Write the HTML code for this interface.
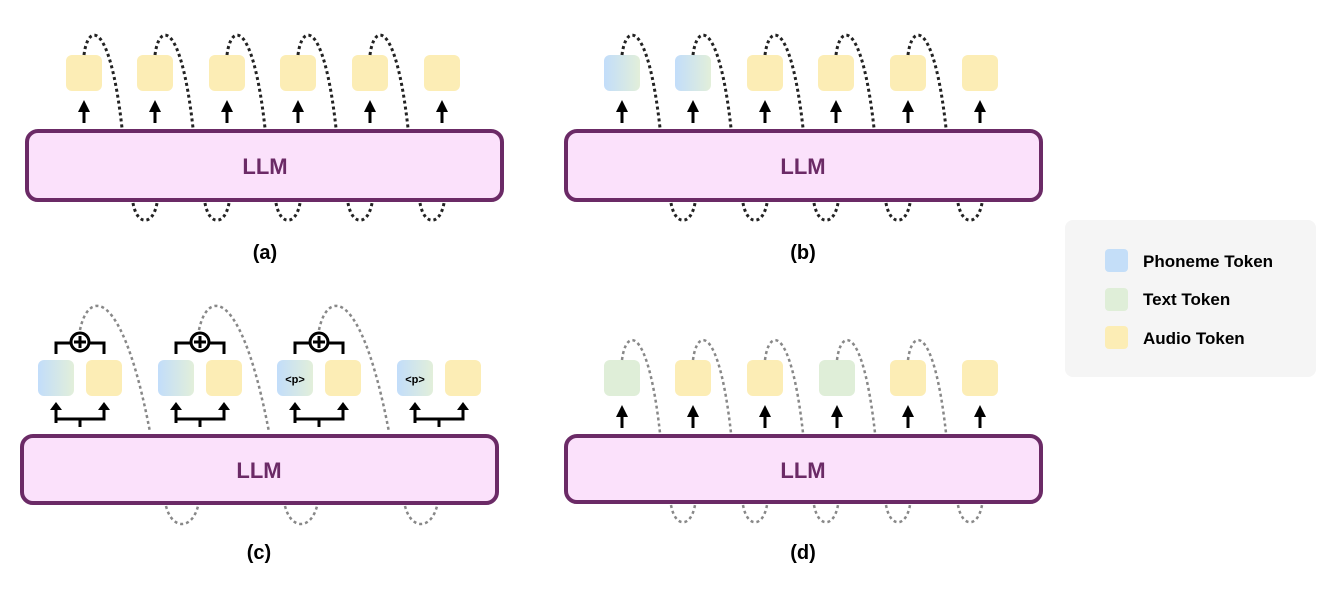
<!DOCTYPE html>
<html><head><style>
body{margin:0;background:#fff}
text{font-family:"Liberation Sans",sans-serif;font-weight:bold}
</style></head><body>
<svg width="1331" height="606" viewBox="0 0 1331 606" xmlns="http://www.w3.org/2000/svg">
<defs>
<linearGradient id="pg" x1="0" x2="1" y1="0" y2="0"><stop offset="0" stop-color="#c2ddfa"/><stop offset="1" stop-color="#e2efda"/></linearGradient>
<marker id="ah" markerWidth="4" markerHeight="4" refX="2" refY="2" orient="auto" markerUnits="strokeWidth"><path d="M0,0 L4,2 L0,4z" fill="#000"/></marker>
</defs>
<rect x="27" y="131" width="475" height="69" rx="11" fill="#fbe1fb" stroke="#6b2a66" stroke-width="4"/>
<text x="265" y="174" font-size="22" fill="#6b2a66" text-anchor="middle">LLM</text>
<!-- panel a -->
<g fill="#fcedb5">
<rect x="66" y="55" width="36" height="36" rx="6"/><rect x="137" y="55" width="36" height="36" rx="6"/><rect x="209" y="55" width="36" height="36" rx="6"/><rect x="280" y="55" width="36" height="36" rx="6"/><rect x="352" y="55" width="36" height="36" rx="6"/><rect x="424" y="55" width="36" height="36" rx="6"/>
</g>
<g stroke="#000" stroke-width="3" marker-end="url(#ah)">
<line x1="84" y1="123" x2="84" y2="106"/><line x1="155" y1="123" x2="155" y2="106"/><line x1="227" y1="123" x2="227" y2="106"/><line x1="298" y1="123" x2="298" y2="106"/><line x1="370" y1="123" x2="370" y2="106"/><line x1="442" y1="123" x2="442" y2="106"/>
</g>
<g fill="none" stroke="#222" stroke-width="3" stroke-dasharray="3 3">
<path d="M84,55 C88,22 110,20 122,128"/><path d="M155,55 C159,22 181,20 193,128"/><path d="M227,55 C231,22 253,20 265,128"/><path d="M298,55 C302,22 324,20 336,128"/><path d="M370,55 C374,22 396,20 408,128"/>
<path d="M133,203 C137,226 153,226 157,203"/><path d="M205,203 C209,226 225,226 229,203"/><path d="M276,203 C280,226 296,226 300,203"/><path d="M348,203 C352,226 368,226 372,203"/><path d="M420,203 C424,226 440,226 444,203"/>
</g>
<text x="265" y="259" font-size="20" text-anchor="middle">(a)</text>
<!-- panel b -->
<rect x="566" y="131" width="475" height="69" rx="11" fill="#fbe1fb" stroke="#6b2a66" stroke-width="4"/>
<text x="803" y="174" font-size="22" fill="#6b2a66" text-anchor="middle">LLM</text>
<rect x="604" y="55" width="36" height="36" rx="6" fill="url(#pg)"/><rect x="675" y="55" width="36" height="36" rx="6" fill="url(#pg)"/>
<g fill="#fcedb5"><rect x="747" y="55" width="36" height="36" rx="6"/><rect x="818" y="55" width="36" height="36" rx="6"/><rect x="890" y="55" width="36" height="36" rx="6"/><rect x="962" y="55" width="36" height="36" rx="6"/></g>
<g stroke="#000" stroke-width="3" marker-end="url(#ah)">
<line x1="622" y1="123" x2="622" y2="106"/><line x1="693" y1="123" x2="693" y2="106"/><line x1="765" y1="123" x2="765" y2="106"/><line x1="836" y1="123" x2="836" y2="106"/><line x1="908" y1="123" x2="908" y2="106"/><line x1="980" y1="123" x2="980" y2="106"/>
</g>
<g fill="none" stroke="#222" stroke-width="3" stroke-dasharray="3 3">
<path d="M622,55 C626,22 648,20 660,128"/><path d="M693,55 C697,22 719,20 731,128"/><path d="M765,55 C769,22 791,20 803,128"/><path d="M836,55 C840,22 862,20 874,128"/><path d="M908,55 C912,22 934,20 946,128"/>
<path d="M671,203 C675,226 691,226 695,203"/><path d="M743,203 C747,226 763,226 767,203"/><path d="M814,203 C818,226 834,226 838,203"/><path d="M886,203 C890,226 906,226 910,203"/><path d="M958,203 C962,226 978,226 982,203"/>
</g>
<text x="803" y="259" font-size="20" text-anchor="middle">(b)</text>
<!-- panel c -->
<rect x="22" y="436" width="475" height="67" rx="11" fill="#fbe1fb" stroke="#6b2a66" stroke-width="4"/>
<text x="259" y="478" font-size="22" fill="#6b2a66" text-anchor="middle">LLM</text>
<g fill="none" stroke="#888" stroke-width="2.5" stroke-dasharray="3 3">
<path d="M80,330 C88,290 122,285 150,432"/><path d="M199,330 C207,290 241,285 269,432"/><path d="M319,330 C327,290 361,285 389,432"/>
<path d="M166,506 C172,530 192,530 198,506"/><path d="M285,506 C291,530 311,530 317,506"/><path d="M405,506 C411,530 431,530 437,506"/>
</g>
<g id="pair">
<rect x="38" y="360" width="36" height="36" rx="6" fill="url(#pg)"/><rect x="86" y="360" width="36" height="36" rx="6" fill="#fcedb5"/>
<path d="M56,423 V410 M56,419 H104 V410 M80,419 V427" fill="none" stroke="#000" stroke-width="3"/>
<path d="M50,410 L56,402 L62,410z M98,410 L104,402 L110,410z" fill="#000"/>
</g>
<use href="#pair" x="120"/><use href="#pair" x="239"/><use href="#pair" x="359"/>
<g id="plus" fill="none" stroke="#000" stroke-width="3">
<path d="M56,354 V343 H71 M89,343 H104 V354"/>
<circle cx="80" cy="342" r="9" fill="#fff"/><path d="M80,336 V348 M74,342 H86"/>
</g>
<use href="#plus" x="120"/><use href="#plus" x="239"/>
<text x="295" y="383" font-size="11" text-anchor="middle">&lt;p&gt;</text>
<text x="415" y="383" font-size="11" text-anchor="middle">&lt;p&gt;</text>
<text x="259" y="559" font-size="20" text-anchor="middle">(c)</text>
<!-- panel d -->
<rect x="566" y="436" width="475" height="66" rx="11" fill="#fbe1fb" stroke="#6b2a66" stroke-width="4"/>
<text x="803" y="478" font-size="22" fill="#6b2a66" text-anchor="middle">LLM</text>
<rect x="604" y="360" width="36" height="36" rx="6" fill="#dfeed8"/><rect x="819" y="360" width="36" height="36" rx="6" fill="#dfeed8"/>
<g fill="#fcedb5"><rect x="675" y="360" width="36" height="36" rx="6"/><rect x="747" y="360" width="36" height="36" rx="6"/><rect x="890" y="360" width="36" height="36" rx="6"/><rect x="962" y="360" width="36" height="36" rx="6"/></g>
<g stroke="#000" stroke-width="3" marker-end="url(#ah)">
<line x1="622" y1="428" x2="622" y2="411"/><line x1="693" y1="428" x2="693" y2="411"/><line x1="765" y1="428" x2="765" y2="411"/><line x1="837" y1="428" x2="837" y2="411"/><line x1="908" y1="428" x2="908" y2="411"/><line x1="980" y1="428" x2="980" y2="411"/>
</g>
<g fill="none" stroke="#888" stroke-width="2.5" stroke-dasharray="3 3">
<path d="M622,360 C626,327 648,325 660,433"/><path d="M693,360 C697,327 719,325 731,433"/><path d="M765,360 C769,327 791,325 803,433"/><path d="M837,360 C841,327 863,325 875,433"/><path d="M908,360 C912,327 934,325 946,433"/>
<path d="M671,505 C675,528 691,528 695,505"/><path d="M743,505 C747,528 763,528 767,505"/><path d="M814,505 C818,528 834,528 838,505"/><path d="M886,505 C890,528 906,528 910,505"/><path d="M958,505 C962,528 978,528 982,505"/>
</g>
<text x="803" y="559" font-size="20" text-anchor="middle">(d)</text>
<!-- legend -->
<rect x="1065" y="220" width="251" height="157" rx="8" fill="#f5f5f5"/>
<rect x="1105" y="249" width="23" height="23" rx="4" fill="#c4def8"/>
<rect x="1105" y="288" width="23" height="23" rx="4" fill="#dfeed8"/>
<rect x="1105" y="326" width="23" height="23" rx="4" fill="#fcedb5"/>
<text x="1143" y="267" font-size="17">Phoneme Token</text>
<text x="1143" y="305" font-size="17">Text Token</text>
<text x="1143" y="344" font-size="17">Audio Token</text>
</svg>
</body></html>
